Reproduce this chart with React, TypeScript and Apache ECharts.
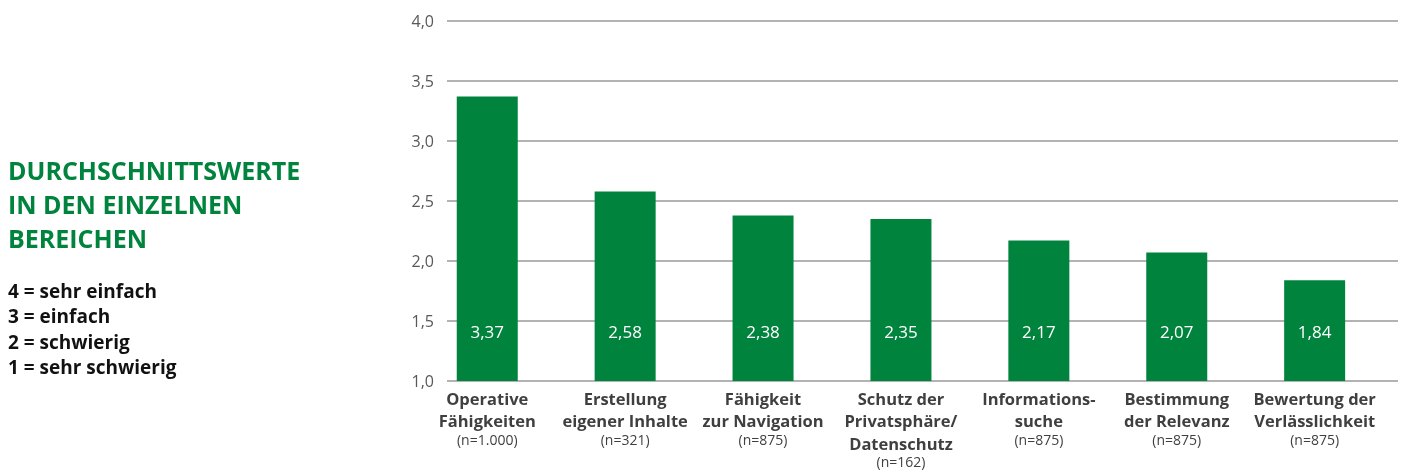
import React, { useEffect, useRef } from "react";
import * as echarts from "echarts";

const categoryLines: string[][] = [
  ["Operative", "Fähigkeiten"],
  ["Erstellung", "eigener Inhalte"],
  ["Fähigkeit", "zur Navigation"],
  ["Schutz der", "Privatsphäre/", "Datenschutz"],
  ["Informations-", "suche"],
  ["Bestimmung", "der Relevanz"],
  ["Bewertung der", "Verlässlichkeit"],
];
const sampleSizes: string[] = ["1.000", "321", "875", "162", "875", "875", "875"];
const values: number[] = [3.37, 2.58, 2.38, 2.35, 2.17, 2.07, 1.84];

const titleLines: string[] = ["DURCHSCHNITTSWERTE", "IN DEN EINZELNEN", "BEREICHEN"];
const scaleLines: string[] = ["4 = sehr einfach", "3 = einfach", "2 = schwierig", "1 = sehr schwierig"];

const yMin = 1;
const yMax = 4;
const yInterval = 0.5;

const GREEN = "#00843D";
const FONT = "'Open Sans', 'Noto Sans', sans-serif";

export default function App() {
  const ref = useRef<HTMLDivElement>(null);
  useEffect(() => {
    if (!ref.current) return;
    const chart = echarts.init(ref.current, undefined, { renderer: "svg" });
    const cats = categoryLines.map((l, i) => l.join("\n") + "|" + sampleSizes[i]);
    const fmt = (v: number) => v.toFixed(1).replace(".", ",");
    const graphics: any[] = [];
    titleLines.forEach((t, i) => {
      graphics.push({
        type: "text",
        left: 8,
        top: 157.5 + i * 33.8,
        style: { text: t, fill: GREEN, font: `bold 25px ${FONT}` },
      });
    });
    scaleLines.forEach((t, i) => {
      graphics.push({
        type: "text",
        left: 8,
        top: 281.5 + i * 25.3,
        style: { text: t, fill: "#111", font: `bold 19px ${FONT}` },
      });
    });
    chart.setOption({
      animation: false,
      textStyle: { fontFamily: FONT },
      grid: [
        { left: 447, right: 9, top: 21, height: 360 },
        { left: 418.3, width: 965.3, top: 21, height: 360 },
      ],
      xAxis: [
        { type: "value", gridIndex: 0, show: false, min: 0, max: 1 },
        {
          type: "category",
          gridIndex: 1,
          data: cats,
          axisLine: { show: false },
          axisTick: { show: false },
          axisLabel: {
            interval: 0,
            margin: 6,
            formatter: (v: string) => {
              const [name, n] = v.split("|");
              return name.split("\n").map((l) => `{b|${l}}`).join("\n") + `\n{n|(n=${n})}`;
            },
            rich: {
              b: { fontSize: 16.5, lineHeight: 22.5, fontWeight: "bold", color: "#3f3f3f", fontFamily: FONT },
              n: { fontSize: 14, lineHeight: 14, color: "#3f3f3f", fontFamily: FONT },
            },
          },
        },
      ],
      yAxis: [
        {
          type: "value",
          gridIndex: 0,
          min: yMin,
          max: yMax,
          interval: yInterval,
          axisLine: { show: false },
          axisTick: { show: false },
          axisLabel: { formatter: fmt, fontSize: 16, color: "#595959", margin: 13, fontFamily: FONT },
          splitLine: { show: true, lineStyle: { color: "#9a9a9a", width: 1.5 } },
        },
        {
          type: "value",
          gridIndex: 1,
          min: yMin,
          max: yMax,
          interval: yInterval,
          show: false,
          splitLine: { show: false },
        },
      ],
      series: [
        {
          type: "bar",
          xAxisIndex: 1,
          yAxisIndex: 1,
          data: values,
          barWidth: 61,
          itemStyle: { color: GREEN },
          label: {
            show: true,
            position: "insideBottom",
            distance: 41,
            color: "#fff",
            fontSize: 17,
            fontFamily: FONT,
            formatter: (p: any) => p.value.toFixed(2).replace(".", ","),
          },
        },
      ],
      graphic: graphics,
    });
    return () => chart.dispose();
  }, []);
  return <div ref={ref} style={{ position: "fixed", left: 0, top: 0, width: 1407, height: 472 }} />;
}
